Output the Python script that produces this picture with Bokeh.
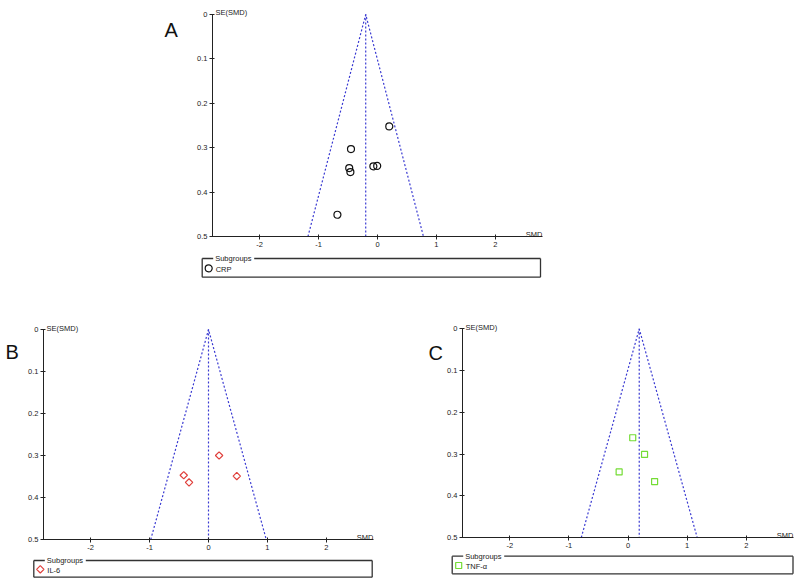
import math
from bokeh.plotting import figure
from bokeh.models import Range1d, FixedTicker, Label
from bokeh.layouts import column, row
from bokeh.core.properties import value
from bokeh.embed import file_html
from bokeh.resources import INLINE

# ---- data ----
x_ticks = [-2, -1, 0, 1, 2]
x_tick_labels = ["-2", "-1", "0", "1", "2"]
y_ticks = [0, 0.1, 0.2, 0.3, 0.4, 0.5]
y_tick_labels = ["0", "0.1", "0.2", "0.3", "0.4", "0.5"]

crp_smd = [0.20, -0.45, -0.48, -0.46, -0.07, -0.005, -0.68]
crp_se = [0.252, 0.303, 0.346, 0.355, 0.342, 0.341, 0.451]
crp_pooled = -0.2

il6_smd = [0.18, -0.42, -0.33, 0.48]
il6_se = [0.300, 0.347, 0.364, 0.349]
il6_pooled = 0.0

tnf_smd = [0.08, 0.28, -0.15, 0.45]
tnf_se = [0.261, 0.301, 0.343, 0.366]
tnf_pooled = 0.19

se_max = 0.5
z = 1.96

FONT = "Liberation Sans"
BLUE = "#3a3ad2"
RED = "#e0403c"
GREEN = "#74dc34"
AXIS = "#222222"
TXT = "#222222"


def base_fig(w, h, xr, yr, **kw):
    p = figure(width=w, height=h, x_range=xr, y_range=yr,
               output_backend="svg", toolbar_location=None, **kw)
    p.frame_align = False
    p.outline_line_color = None
    return p


def make_panel(smd, se, pooled, marker, color, size, angle, w, h, bl, br, bt, bb, y_top):
    p = base_fig(w, h, Range1d(-2.8, 2.8), Range1d(0.5, y_top),
                 min_border_left=bl, min_border_right=br,
                 min_border_top=bt, min_border_bottom=bb)
    p.xgrid.visible = False
    p.ygrid.visible = False
    p.xaxis.ticker = FixedTicker(ticks=x_ticks)
    p.yaxis.ticker = FixedTicker(ticks=y_ticks)
    p.xaxis.major_label_overrides = dict(zip(x_ticks, x_tick_labels))
    p.yaxis.major_label_overrides = dict(zip(y_ticks, y_tick_labels))
    p.yaxis.bounds = (0, se_max)
    for ax in (p.xaxis, p.yaxis):
        ax.axis_line_color = AXIS
        ax.axis_line_width = 1
        ax.major_tick_line_color = AXIS
        ax.major_tick_in = 2
        ax.major_tick_out = 3
        ax.minor_tick_line_color = None
        ax.major_label_text_font = FONT
        ax.major_label_text_font_size = "7.5px"
        ax.major_label_text_color = TXT
        ax.major_label_standoff = 2

    # funnel (pseudo 95% confidence limits) and pooled estimate
    lo = pooled - z * se_max
    hi = pooled + z * se_max
    p.line([lo, pooled, hi], [se_max, 0, se_max], line_color=BLUE, line_dash="2 2", line_width=1.2)
    p.line([pooled, pooled], [0, se_max], line_color=BLUE, line_dash="2 2", line_width=1.2)

    p.scatter(smd, se, marker=marker, size=size, angle=angle, fill_color=None,
              line_color=color, line_width=1.2)

    per_px = (se_max - y_top) / (h - bt - bb)
    p.add_layout(Label(x=-2.8, y=-1.5 * per_px, x_offset=3,
                       text="SE(SMD)", text_font=FONT, text_font_size="7.5px",
                       text_color=TXT, text_baseline="alphabetic"))
    p.add_layout(Label(x=2.8, y=se_max - 2 * per_px, text="SMD",
                       text_font=FONT, text_font_size="7.5px", text_color=TXT,
                       text_baseline="alphabetic", text_align="right"))
    return p


def make_letter(w, h, x, y, letter):
    q = base_fig(w, h, Range1d(0, w), Range1d(h, 0), min_border=0,
                 x_axis_type=None, y_axis_type=None)
    q.xgrid.visible = False
    q.ygrid.visible = False
    q.text(x=[x], y=[y], text=[letter], text_font=value(FONT), text_font_size="20px",
           text_baseline="alphabetic", text_color="#111111")
    return q


def make_legend(w, h, L, R, T, B, marker, color, size, angle, label):
    q = base_fig(w, h, Range1d(0, w), Range1d(h, 0), min_border=0,
                 x_axis_type=None, y_axis_type=None)
    q.xgrid.visible = False
    q.ygrid.visible = False
    q.segment(x0=[L, L, R, L, L + 52], y0=[T, B, T, T, T],
              x1=[L, R, R, L + 11, R], y1=[B, B, B, T, T],
              line_color="#333333", line_width=1.3)
    q.text(x=[L + 13], y=[T], text=["Subgroups"], text_font=value(FONT),
           text_font_size="7.5px", text_baseline="middle", text_color=TXT)
    q.scatter([L + 6.5], [(T + B) / 2 + 0.5], marker=marker, size=size, angle=angle,
              fill_color=None, line_color=color, line_width=1.2)
    q.text(x=[L + 13.5], y=[(T + B) / 2 + 1.5], text=[label], text_font=value(FONT),
           text_font_size="7.5px", text_baseline="middle", text_color=TXT)
    return q


# ---- panel A (top) ----
letA = make_letter(190, 252, 164, 29, "A")
figA = make_panel(crp_smd, crp_se, crp_pooled, "circle", "#111111", 7, 0,
                  610, 252, 22, 258, 4, 16, -0.0225)
legA = make_legend(800, 48, 201.7, 540, 6, 24.7, "circle", "#111111", 7, 0, "CRP")

# ---- panel B (bottom left) ----
letB = make_letter(22, 255, 5, 51, "B")
figB = make_panel(il6_smd, il6_se, il6_pooled, "square", RED, 5.2, math.pi / 4,
                  378, 255, 21, 27, 16, 16, -0.031)
legB = make_legend(400, 26, 33.3, 371.7, 5, 21.7, "square", RED, 5.2, math.pi / 4, "IL-6")

# ---- panel C (bottom right) ----
letC = make_letter(44, 253, 28, 52, "C")
figC = make_panel(tnf_smd, tnf_se, tnf_pooled, "square", GREEN, 6, 0,
                  356, 253, 18, 7, 16, 16, -0.0295)
legC = make_legend(400, 28, 51.7, 392.5, 2.7, 20.3, "square", GREEN, 6, 0, "TNF-α")

layout = column(
    column(row(letA, figA), legA),
    row(column(row(letB, figB), legB), column(row(letC, figC), legC)),
)

open("out.html", "w").write(file_html(layout, INLINE))
